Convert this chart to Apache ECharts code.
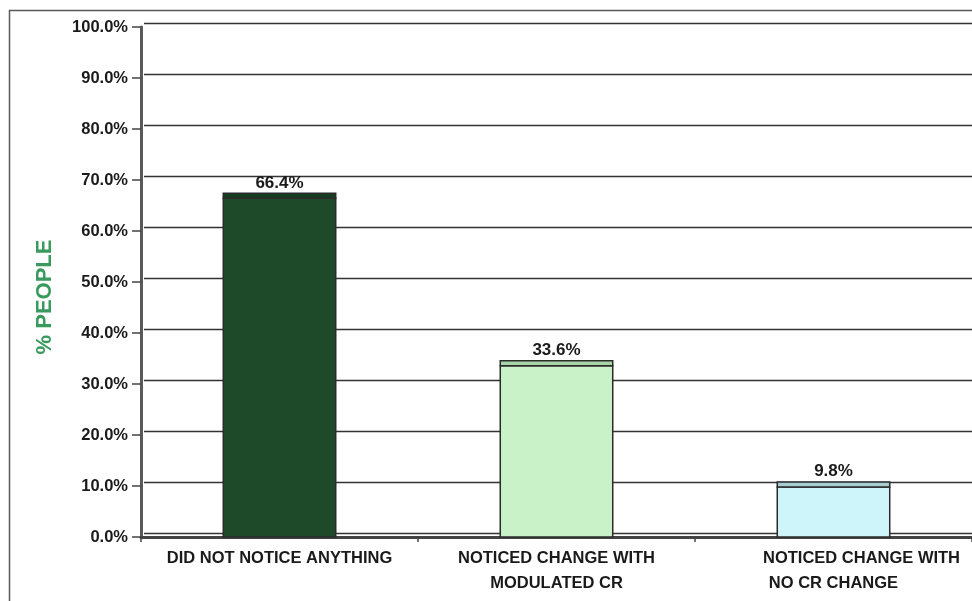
<!DOCTYPE html>
<html>
<head>
<meta charset="utf-8">
<script src="https://cdn.jsdelivr.net/npm/echarts@6/dist/echarts.min.js"></script>
<style>
  html, body { margin: 0; padding: 0; background: #fff; }
  #chart { width: 972px; height: 601px; }
</style>
</head>
<body>
<div id="chart"></div>
<script>
// Share of respondents per reaction category
const categories = [
  'DID NOT NOTICE ANYTHING',
  'NOTICED CHANGE WITH\nMODULATED CR',
  'NOTICED CHANGE WITH\nNO CR CHANGE'
];
const percentPeople = [66.4, 33.6, 9.8];
const yMin = 0;
const yMax = 100;
const yStep = 10;
const yTitle = '% PEOPLE';

const faceColors = ['#1f4a2a', '#c9f2c9', '#cdf5fa'];
const topColors = ['#163c20', '#a7d5a5', '#a6cdd0'];
const FONT = 'Arial, "Liberation Sans", sans-serif';

const chart = echarts.init(document.getElementById('chart'), null, { renderer: 'canvas' });

const barData = percentPeople.map((v, i) => [i, v]);

function fmtPct(v) { return v.toFixed(1) + '%'; }

const catFont = { fontFamily: FONT, fontWeight: 'bold', fontSize: 16.5, lineHeight: 25, color: '#1a1a1a' };

const option = {
  backgroundColor: '#ffffff',
  animation: false,
  graphic: [
    {
      type: 'rect',
      left: 7, top: 8,
      shape: { width: 990, height: 620 },
      style: { fill: 'none', stroke: '#5a5a5a', lineWidth: 1.5 },
      silent: true
    },
    {
      type: 'text',
      x: 45, y: 297,
      rotation: Math.PI / 2,
      style: {
        text: yTitle,
        textAlign: 'center',
        textVerticalAlign: 'middle',
        font: 'bold 22px ' + FONT,
        fill: '#3a9a5e'
      },
      silent: true
    }
  ],
  grid: [
    // front plane: axes, ticks, bars
    { left: 141, top: 27, width: 834, height: 510 },
    // back wall: gridlines, nudged up and right for depth
    { left: 144, top: 23, width: 834, height: 510 }
  ],
  xAxis: [
    {
      type: 'category',
      gridIndex: 0,
      data: categories,
      axisLine: { lineStyle: { color: '#444', width: 3 } },
      axisTick: { show: true, length: 5, lineStyle: { color: '#444', width: 1.5 } },
      axisLabel: Object.assign({
        interval: 0,
        margin: 9,
        formatter: function (value, idx) {
          if (idx === 2) {
            const parts = value.split('\n');
            return '{a|' + parts[0] + '}\n{b|' + parts[1] + '}';
          }
          return value;
        },
        rich: {
          a: Object.assign({ padding: [0, 0, 0, 56] }, catFont),
          b: Object.assign({}, catFont)
        }
      }, catFont),
      splitLine: { show: false }
    },
    {
      type: 'category',
      gridIndex: 1,
      data: categories,
      show: false
    }
  ],
  yAxis: [
    {
      type: 'value',
      gridIndex: 0,
      min: yMin, max: yMax, interval: yStep,
      axisLine: { show: true, lineStyle: { color: '#5a5a5a', width: 3 } },
      axisTick: { show: true, length: 9, lineStyle: { color: '#444', width: 1.5 } },
      axisLabel: {
        margin: 13,
        color: '#1a1a1a',
        fontFamily: FONT,
        fontWeight: 'bold',
        fontSize: 16.5,
        formatter: fmtPct
      },
      splitLine: { show: false }
    },
    {
      type: 'value',
      gridIndex: 1,
      min: yMin, max: yMax, interval: yStep,
      axisLine: { show: false },
      axisTick: { show: false },
      axisLabel: { show: false },
      splitLine: { show: true, lineStyle: { color: '#333', width: 1.4 } }
    }
  ],
  series: [{
    type: 'custom',
    xAxisIndex: 0,
    yAxisIndex: 0,
    data: barData,
    encode: { x: 0, y: 1 },
    z: 5,
    renderItem: function (params, api) {
      const i = params.dataIndex;
      const v = api.value(1);
      const top = api.coord([api.value(0), v]);
      const base = api.coord([api.value(0), 0]);
      const bw = api.size([1, 0])[0] * 0.406;
      const x0 = top[0] - bw / 2;
      const depth = 5;
      return {
        type: 'group',
        children: [
          {
            type: 'rect',
            shape: { x: x0, y: top[1], width: bw, height: base[1] - top[1] },
            style: { fill: faceColors[i], stroke: '#2b2b2b', lineWidth: 1.5 }
          },
          {
            type: 'rect',
            shape: { x: x0, y: top[1] - depth, width: bw, height: depth },
            style: { fill: topColors[i], stroke: '#2b2b2b', lineWidth: 1.5 }
          },
          {
            type: 'text',
            style: {
              text: fmtPct(v),
              x: top[0],
              y: top[1] - depth - 2,
              textAlign: 'center',
              textVerticalAlign: 'bottom',
              font: 'bold 17px ' + FONT,
              fill: '#1a1a1a'
            }
          }
        ]
      };
    }
  }]
};

chart.setOption(option);
</script>
</body>
</html>
